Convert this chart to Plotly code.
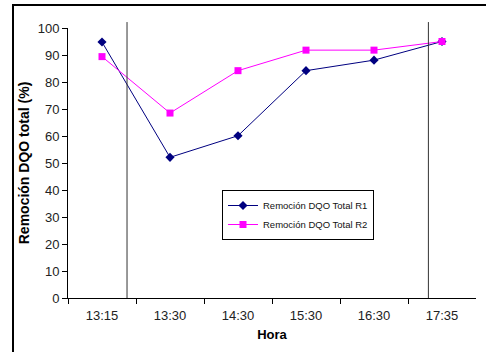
import plotly.graph_objects as go

horas = ["13:15", "13:30", "14:30", "15:30", "16:30", "17:35"]
r1 = [94.8, 52.1, 60.1, 84.2, 88.1, 95.0]
r2 = [89.4, 68.5, 84.2, 91.8, 91.8, 95.0]
vlines_x = [0.368, 4.80]

FONT = "Liberation Sans, Arial, sans-serif"
W, H = 486, 352
ML, MT = 14, 6
PW, PH = W - ML, H - MT

def px_x(p):
    return (p - ML) / PW

def px_y(p):
    return (H - p) / PH

fig = go.Figure()
fig.add_trace(go.Scatter(x=horas, y=r1, mode="lines+markers", name="Remoción DQO Total R1",
                         line=dict(color="#000080", width=1),
                         marker=dict(symbol="diamond", size=7, color="#000080")))
fig.add_trace(go.Scatter(x=horas, y=r2, mode="lines+markers", name="Remoción DQO Total R2",
                         line=dict(color="#FF00FF", width=1),
                         marker=dict(symbol="square", size=7, color="#FF00FF")))

# outer chart border (left and top edges)
fig.add_shape(type="line", xref="paper", yref="paper", x0=px_x(13), x1=px_x(13), y0=0, y1=px_y(5),
              line=dict(color="black", width=2))
fig.add_shape(type="line", xref="paper", yref="paper", x0=px_x(13), x1=1, y0=px_y(5), y1=px_y(5),
              line=dict(color="black", width=2))
for vx in vlines_x:
    fig.add_shape(type="line", xref="x", yref="y domain", x0=vx, x1=vx, y0=0, y1=1.022,
                  line=dict(color="#333333", width=1))

# border also as an annotation frame
fig.add_annotation(xref="paper", yref="paper", x=px_x(12), y=px_y(4), xanchor="left", yanchor="top",
                   text=" ", showarrow=False, width=520, height=400,
                   bordercolor="#000000", borderwidth=2, borderpad=0)

fig.update_layout(
    width=W, height=H,
    margin=dict(l=ML, r=0, t=MT, b=0, autoexpand=False),
    paper_bgcolor="white", plot_bgcolor="white",
    font=dict(family=FONT, size=13, color="#222222"),
    showlegend=True,
    legend=dict(x=px_x(222), y=px_y(190), xanchor="left", yanchor="top",
                bordercolor="#000000", borderwidth=1, bgcolor="white",
                font=dict(size=9.5, color="#111111"), itemwidth=30,
                tracegroupgap=0),
    xaxis=dict(type="category", range=[-0.5, 5.5], domain=[px_x(68), px_x(476)],
               showgrid=False, zeroline=False, automargin=False,
               showline=True, linecolor="#000000", linewidth=1,
               ticks="outside", ticklen=5, tickcolor="#000000", tickson="boundaries",
               ticklabelstandoff=5,
               title=dict(text="<b>Hora</b>", font=dict(size=13, color="#000000"), standoff=8)),
    yaxis=dict(range=[0, 100], dtick=10, domain=[px_y(298), px_y(28)],
               showgrid=False, zeroline=False, automargin=False,
               showline=True, linecolor="#000000", linewidth=1,
               ticks="outside", ticklen=5, tickcolor="#000000",
               title=dict(text="<b>Remoción DQO total (%)</b>", font=dict(size=14, color="#000000"),
                          standoff=4)),
)

fig.write_html("out.html")
